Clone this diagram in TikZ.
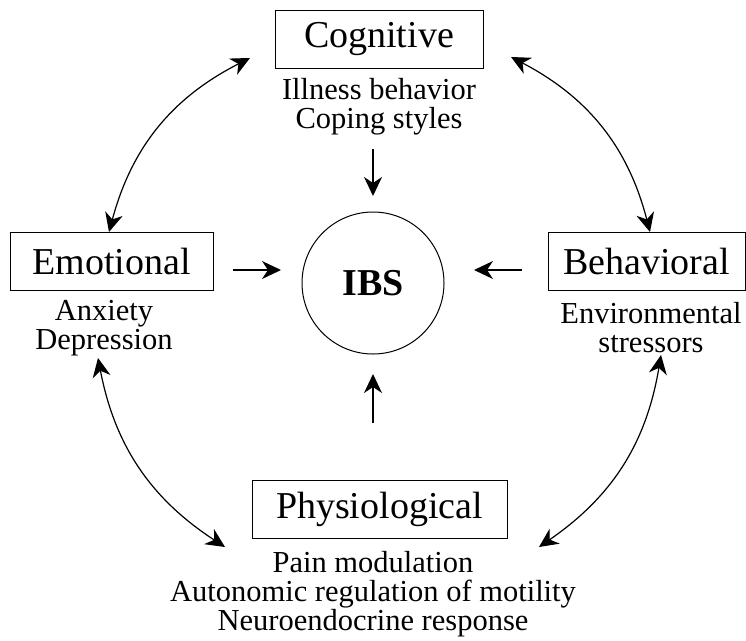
\documentclass[tikz,border=0pt]{standalone}
\usepackage{fontspec}
\setmainfont{Liberation Serif}
\usetikzlibrary{arrows.meta}
\begin{document}
\begin{tikzpicture}[x=1pt,y=-1pt,
  box/.style={draw, line width=1pt, inner sep=0pt, font=\fontsize{38}{40}\selectfont, minimum height=58pt},
  sub/.style={align=center, inner sep=0pt, font=\fontsize{30.5}{29}\selectfont},
  tip/.style={-{Stealth[length=19pt,width=18pt,inset=6pt]}, line width=1.3pt},
  dtip/.style={{Stealth[length=19pt,width=18pt,inset=6pt]}-{Stealth[length=19pt,width=18pt,inset=6pt]}, line width=1.2pt}]
\useasboundingbox (0,0) rectangle (746,640);
% main boxes
\node[box, minimum width=208pt] (cog) at (379,39) {Cognitive};
\node[box, minimum width=203pt] (emo) at (111.5,261) {Emotional};
\node[box, minimum width=197pt] (beh) at (646.5,261) {Behavioral};
\node[box, minimum width=255pt] (phy) at (379.5,509) {Physiological};
% centre
\node[draw, circle, line width=1pt, minimum size=142pt, inner sep=0pt,
      font=\fontsize{38}{40}\selectfont\bfseries] (ibs) at (373,283) {IBS};
% sub texts
\node[sub] (cogsub) at (379,107) {Illness behavior\\Coping styles};
\node[sub] (emosub) at (104,328) {Anxiety\\Depression};
\node[sub] (behsub) at (651,328) {Environmental\\stressors};
\node[sub] (physub) at (373,594) {Pain modulation\\Autonomic regulation of motility\\Neuroendocrine response};
% straight arrows
\coordinate (c1) at (373,149); \coordinate (c2) at (373,196);
\coordinate (e1) at (233,270); \coordinate (e2) at (281,270);
\coordinate (b1) at (522,270); \coordinate (b2) at (474,270);
\coordinate (p1) at (373,423); \coordinate (p2) at (373,374);
\draw[tip] (c1) -- (c2);
\draw[tip] (e1) -- (e2);
\draw[tip] (b1) -- (b2);
\draw[tip] (p1) -- (p2);
% curved double arrows
\coordinate (ce1) at (250,58);  \coordinate (ce2) at (109,232);
\coordinate (cb1) at (511,57);  \coordinate (cb2) at (650,232);
\coordinate (ep1) at (98,358);  \coordinate (ep2) at (225,547);
\coordinate (bp1) at (661,355); \coordinate (bp2) at (539,547);
\draw[dtip] (ce1) to[bend right=24] (ce2);
\draw[dtip] (cb1) to[bend left=24] (cb2);
\draw[dtip] (ep1) to[bend right=23] (ep2);
\draw[dtip] (bp1) to[bend left=23] (bp2);
\end{tikzpicture}
\end{document}
